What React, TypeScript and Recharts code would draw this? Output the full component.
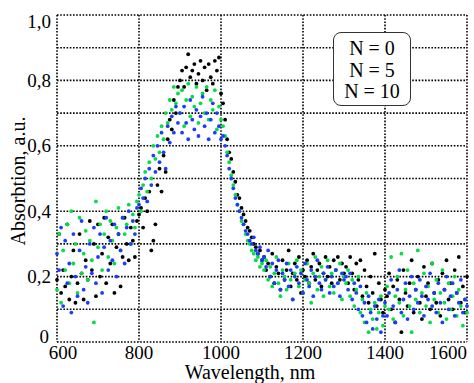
import React from "react";
import { ScatterChart, Scatter, XAxis, YAxis, CartesianGrid } from "recharts";

// wavelength grid, nm
const wavelength = [
  600, 605, 610, 615, 620, 625, 630, 635, 640, 645, 650, 655, 660, 665, 670, 675, 680, 685, 690, 695,
  700, 705, 710, 715, 720, 725, 730, 735, 740, 745, 750, 755, 760, 765, 770, 775, 780, 785, 790, 795,
  800, 805, 810, 815, 820, 825, 830, 835, 840, 845, 850, 855, 860, 865, 870, 875, 880, 885, 890, 895,
  900, 905, 910, 915, 920, 925, 930, 935, 940, 945, 950, 955, 960, 965, 970, 975, 980, 985, 990, 995,
  1000, 1005, 1010, 1015, 1020, 1025, 1030, 1035, 1040, 1045, 1050, 1055, 1060, 1065, 1070, 1075, 1080, 1085, 1090, 1095,
  1100, 1105, 1110, 1115, 1120, 1125, 1130, 1135, 1140, 1145, 1150, 1155, 1160, 1165, 1170, 1175, 1180, 1185, 1190, 1195,
  1200, 1205, 1210, 1215, 1220, 1225, 1230, 1235, 1240, 1245, 1250, 1255, 1260, 1265, 1270, 1275, 1280, 1285, 1290, 1295,
  1300, 1305, 1310, 1315, 1320, 1325, 1330, 1335, 1340, 1345, 1350, 1355, 1360, 1365, 1370, 1375, 1380, 1385, 1390, 1395,
  1400, 1405, 1410, 1415, 1420, 1425, 1430, 1435, 1440, 1445, 1450, 1455, 1460, 1465, 1470, 1475, 1480, 1485, 1490, 1495,
  1500, 1505, 1510, 1515, 1520, 1525, 1530, 1535, 1540, 1545, 1550, 1555, 1560, 1565, 1570, 1575, 1580, 1585, 1590, 1595,
  1600,
];

// N = 0 (black)
const absN0 = [
  0.19, 0.33, 0.15, 0.22, 0.17, 0.36, 0.13, 0.2, 0.28, 0.12,
  0.18, 0.33, 0.21, 0.13, 0.25, 0.19, 0.37, 0.22, 0.3, 0.14,
  0.36, 0.2, 0.27, 0.38, 0.18, 0.32, 0.24, 0.36, 0.15, 0.29,
  0.33, 0.17, 0.26, 0.38, 0.3, 0.25, 0.35, 0.31, 0.26, 0.37,
  0.39, 0.41, 0.35, 0.44, 0.4, 0.46, 0.28, 0.31, 0.36, 0.48, 0.53, 0.46, 0.57, 0.52, 0.62, 0.68, 0.65, 0.74, 0.7, 0.78,
  0.8, 0.83, 0.78, 0.84, 0.88, 0.81, 0.83, 0.85, 0.79, 0.82, 0.86, 0.8, 0.84, 0.77, 0.85, 0.81, 0.79, 0.86, 0.83, 0.87, 0.76,
  0.73, 0.68, 0.62, 0.58, 0.56, 0.52, 0.49, 0.45, 0.44, 0.41, 0.39, 0.37, 0.35, 0.34, 0.32, 0.3, 0.29, 0.27, 0.28, 0.25,
  0.26, 0.22, 0.24, 0.2, 0.27, 0.18, 0.23, 0.21, 0.16, 0.25,
  0.19, 0.22, 0.28, 0.17, 0.21, 0.24, 0.19, 0.26, 0.15, 0.22,
  0.2, 0.25, 0.18, 0.23, 0.27, 0.19, 0.22, 0.24, 0.17, 0.21,
  0.26, 0.2, 0.23, 0.18, 0.25, 0.22, 0.26, 0.19, 0.24, 0.21,
  0.23, 0.18, 0.26, 0.21, 0.16, 0.24, 0.19, 0.25, 0.14, 0.22, 0.17, 0.12, 0.2, 0.15, 0.27, 0.11, 0.18, 0.13, 0.09, 0.16,
  0.14, 0.21, 0.1, 0.17, 0.06, 0.19, 0.13, 0.03, 0.22, 0.15,
  0.11, 0.18, 0.25, 0.09, 0.16, 0.2, 0.12, 0.07, 0.23, 0.14,
  0.18, 0.1, 0.24, 0.15, 0.12, 0.19, 0.08, 0.21, 0.16, 0.25,
  0.13, 0.18, 0.1, 0.22, 0.15, 0.26, 0.12, 0.17, 0.09, 0.2,
];

// N = 5 (green)
const absN5 = [
  0.16, 0.33, 0.12, 0.28, 0.22, 0.36, 0.18, 0.4, 0.24, 0.3,
  0.15, 0.38, 0.21, 0.27, 0.34, 0.19, 0.31, 0.25, 0.06, 0.43,
  0.29, 0.36, 0.22, 0.33, 0.4, 0.26, 0.37, 0.31, 0.24, 0.35,
  0.41, 0.28, 0.38, 0.33, 0.36, 0.42, 0.3, 0.39, 0.35, 0.43,
  0.45, 0.4, 0.48, 0.52, 0.46, 0.55, 0.5, 0.6, 0.56, 0.63, 0.58, 0.66, 0.62, 0.7, 0.67, 0.74, 0.71, 0.78, 0.73, 0.76,
  0.7, 0.77, 0.66, 0.74, 0.79, 0.69, 0.75, 0.72, 0.78, 0.67, 0.73, 0.76, 0.7, 0.78, 0.68, 0.74, 0.71, 0.77, 0.65, 0.72, 0.68,
  0.66, 0.63, 0.58, 0.55, 0.51, 0.48, 0.45, 0.42, 0.4, 0.37, 0.36, 0.33, 0.31, 0.3, 0.28, 0.27, 0.25, 0.26, 0.23, 0.24,
  0.22, 0.25, 0.19, 0.23, 0.17, 0.21, 0.26, 0.18, 0.14, 0.22,
  0.2, 0.16, 0.24, 0.19, 0.13, 0.21, 0.25, 0.17, 0.22, 0.15,
  0.19, 0.24, 0.18, 0.12, 0.21, 0.26, 0.16, 0.2, 0.23, 0.14,
  0.19, 0.25, 0.17, 0.21, 0.15, 0.22, 0.18, 0.24, 0.13, 0.2,
  0.18, 0.22, 0.14, 0.19, 0.11, 0.16, 0.2, 0.09, 0.13, 0.06, 0.15, 0.03, 0.1, 0.07, 0.12, 0.04, 0.09, 0.14, 0.05, 0.11,
  0.17, 0.1, 0.26, 0.07, 0.14, 0.2, 0.12, 0.27, 0.08, 0.16,
  0.22, 0.11, 0.03, 0.18, 0.13, 0.28, 0.09, 0.15, 0.21, 0.11,
  0.17, 0.06, 0.24, 0.13, 0.19, 0.09, 0.15, 0.22, 0.12, 0.07,
  0.18, 0.1, 0.14, 0.2, 0.08, 0.16, 0.11, 0.05, 0.13, 0.09,
];

// N = 10 (blue)
const absN10 = [
  0.27, 0.22, 0.35, 0.11, 0.31, 0.18, 0.24, 0.09, 0.33, 0.2,
  0.14, 0.28, 0.37, 0.16, 0.23, 0.12, 0.3, 0.21, 0.35, 0.18,
  0.26, 0.33, 0.15, 0.29, 0.38, 0.22, 0.31, 0.25, 0.36, 0.2,
  0.33, 0.28, 0.38, 0.24, 0.35, 0.4, 0.3, 0.37, 0.33, 0.41,
  0.42, 0.47, 0.44, 0.5, 0.43, 0.53, 0.48, 0.57, 0.52, 0.6, 0.55, 0.64, 0.58, 0.53, 0.66, 0.61, 0.69, 0.64, 0.72, 0.67,
  0.7, 0.64, 0.72, 0.67, 0.62, 0.74, 0.68, 0.65, 0.71, 0.63, 0.69, 0.75, 0.66, 0.7, 0.62, 0.68, 0.73, 0.64, 0.7, 0.66, 0.62,
  0.63, 0.6, 0.57, 0.53, 0.5, 0.47, 0.44, 0.42, 0.4, 0.38, 0.36, 0.34, 0.33, 0.31, 0.3, 0.32, 0.28, 0.27, 0.29, 0.25,
  0.26, 0.23, 0.28, 0.2, 0.24, 0.18, 0.22, 0.25, 0.16, 0.21,
  0.19, 0.24, 0.17, 0.22, 0.13, 0.2, 0.23, 0.18, 0.21, 0.15,
  0.24, 0.19, 0.17, 0.22, 0.14, 0.2, 0.25, 0.18, 0.16, 0.21,
  0.19, 0.23, 0.15, 0.2, 0.17, 0.22, 0.18, 0.14, 0.21, 0.19,
  0.2, 0.16, 0.21, 0.13, 0.18, 0.15, 0.1, 0.17, 0.08, 0.12, 0.06, 0.14, 0.09, 0.04, 0.11, 0.07, 0.13, 0.03, 0.08, 0.12,
  0.08, 0.15, 0.19, 0.11, 0.06, 0.16, 0.22, 0.09, 0.13, 0.18,
  0.07, 0.14, 0.2, 0.1, 0.16, 0.12, 0.19, 0.14, 0.08, 0.17,
  0.13, 0.21, 0.11, 0.15, 0.09, 0.18, 0.12, 0.06, 0.16, 0.2,
  0.1, 0.14, 0.18, 0.08, 0.15, 0.12, 0.19, 0.09, 0.13, 0.11,
];

const xTicks = [600, 800, 1000, 1200, 1400, 1600];
const yTicks = [0, 0.1, 0.2, 0.3, 0.4, 0.5, 0.6, 0.7, 0.8, 0.9, 1.0];
const legendLabels = ["N = 0", "N = 5", "N = 10"];

const serif = "Liberation Serif, DejaVu Serif, serif";
const toPoints = (ys: number[]) => wavelength.map((x, i) => ({ x, y: ys[i] }));

const dot = (color: string) => (p: any) => <circle cx={p.cx} cy={p.cy} r={1.9} fill={color} />;

const XTick = ({ x, y, payload }: any) => {
  const v = payload.value;
  const last = v === 1600;
  return (
    <text x={x + (v === 600 ? 6 : 0)} y={y + 9} textAnchor={last ? "end" : "middle"}
      fontFamily={serif} fontSize={19} fill="#000">
      {v}
    </text>
  );
};

const YTick = ({ x, y, payload }: any) => {
  const v = payload.value;
  if (Math.round(v * 10) % 2 !== 0) return null;
  const label = v === 0 ? "0" : v.toFixed(1).replace(".", ",");
  const shift = v === 0 ? -6 : v === 1 ? 6 : 0;
  return (
    <text x={x - (v === 0 ? 2 : 0)} y={y + shift} dy="0.35em" textAnchor="end" fontFamily={serif} fontSize={19} fill="#000">
      {label}
    </text>
  );
};

export default function App() {
  return (
    <div style={{ position: "absolute", left: 0, top: 0, width: 474, height: 383, background: "#fff" }}>
      <ScatterChart width={474} height={383} margin={{ top: 15, right: 7, left: 0, bottom: 0 }}>
        <CartesianGrid stroke="#000" strokeWidth={1.6} strokeDasharray="1.6 1.6" fill="none" />
        <XAxis type="number" dataKey="x" domain={[600, 1600]} ticks={xTicks} height={41}
          axisLine={false} tickLine={false} tick={<XTick />} interval={0} />
        <YAxis type="number" dataKey="y" domain={[0, 1]} ticks={yTicks} width={57}
          axisLine={false} tickLine={false} tickMargin={0} tick={<YTick />} interval={0} />
        <Scatter data={toPoints(absN0)} shape={dot("#000000")} isAnimationActive={false} />
        <Scatter data={toPoints(absN5)} shape={dot("#00e040")} isAnimationActive={false} />
        <Scatter data={toPoints(absN10)} shape={dot("#1e3cff")} isAnimationActive={false} />
        <text x={250} y={379} textAnchor="middle" fontFamily={serif} fontSize={20} fill="#000">
          Wavelength, nm
        </text>
        <text x={25} y={181} transform="rotate(-90 25 181)" textAnchor="middle" fontFamily={serif} fontSize={20} fill="#000">
          Absorbtion, a.u.
        </text>
      </ScatterChart>
      <div style={{
        position: "absolute", left: 333, top: 32, width: 78, height: 74, boxSizing: "border-box",
        border: "1.3px solid #333", borderRadius: 8, background: "#fff", fontFamily: serif,
        fontSize: 20, lineHeight: "21.5px", textAlign: "center", paddingTop: 5, color: "#000",
      }}>
        {legendLabels.map((l) => <div key={l}>{l}</div>)}
      </div>
    </div>
  );
}
